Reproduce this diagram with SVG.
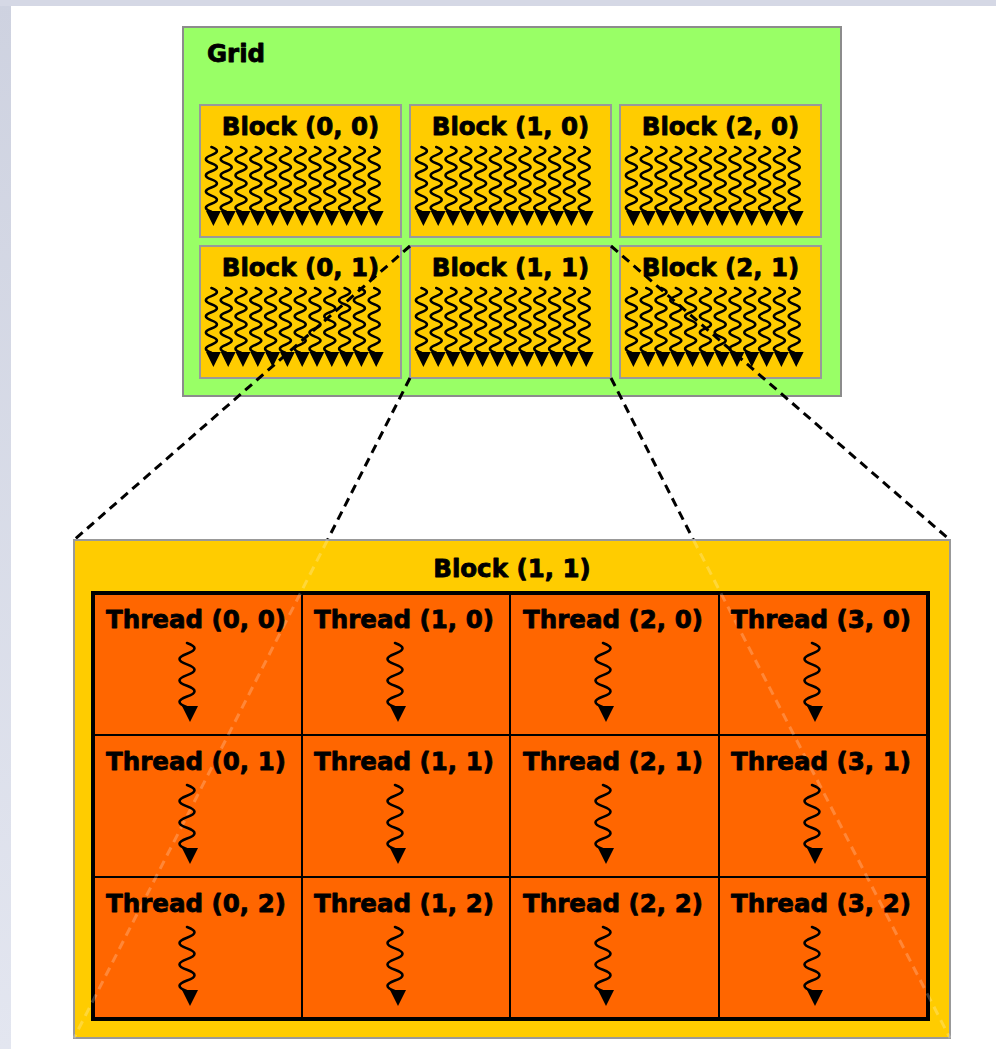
<svg xmlns="http://www.w3.org/2000/svg" xmlns:xlink="http://www.w3.org/1999/xlink" width="996" height="1049" viewBox="0 0 996 1049">
  <style>
    .lbl { font-family: "DejaVu Sans", Verdana, sans-serif; font-weight: bold; font-size: 24.5px; fill: #000; stroke: #000; stroke-width: 0.8px; stroke-linejoin: round; }
    .mid { text-anchor: middle; }
    .grid { fill: #99ff66; stroke: #8c8c8c; stroke-width: 2; }
    .blk { fill: #ffcc00; stroke: #999999; stroke-width: 2; }
    .wave { fill: none; stroke: #000; stroke-width: 2.6; stroke-linecap: round; stroke-linejoin: round; }
    .tip { fill: #000; }
    .cell { fill: #ff6600; stroke: #000; stroke-width: 4; }
    .sep { stroke: #000; stroke-width: 2; }
    .dash { stroke: #000; stroke-width: 3; stroke-dasharray: 9 6; fill: none; }
    .ghost { stroke: #ffffff; stroke-opacity: 0.22; stroke-width: 3; stroke-dasharray: 9 6; fill: none; }
  </style>
  <defs>
    <linearGradient id="side" x1="0" y1="0" x2="0" y2="1">
      <stop offset="0" stop-color="#ced2e0"/>
      <stop offset="1" stop-color="#e3e6f0"/>
    </linearGradient>
    <!-- one wavy thread line, 8 half-waves -->
    <path id="w12" class="wave" d="M-2,42 q11,4 0,8.1 t0,8.1 t0,8.1 t0,8.1 t0,8.1 t0,8.1 t0,8.1 t0,8.1"/>
    <!-- twelve threads with their arrowheads, placed relative to a block's corner -->
    <g id="threads">
      <use xlink:href="#w12" x="13.4"/>
      <use xlink:href="#w12" x="28.2"/>
      <use xlink:href="#w12" x="43"/>
      <use xlink:href="#w12" x="57.8"/>
      <use xlink:href="#w12" x="72.6"/>
      <use xlink:href="#w12" x="87.4"/>
      <use xlink:href="#w12" x="102.2"/>
      <use xlink:href="#w12" x="117"/>
      <use xlink:href="#w12" x="131.8"/>
      <use xlink:href="#w12" x="146.6"/>
      <use xlink:href="#w12" x="161.4"/>
      <use xlink:href="#w12" x="176.2"/>
      <path class="tip" d="M6,106 h177.6 l-7.4,15 l-7.4,-15 l-7.4,15 l-7.4,-15 l-7.4,15 l-7.4,-15 l-7.4,15 l-7.4,-15 l-7.4,15 l-7.4,-15 l-7.4,15 l-7.4,-15 l-7.4,15 l-7.4,-15 l-7.4,15 l-7.4,-15 l-7.4,15 l-7.4,-15 l-7.4,15 l-7.4,-15 l-7.4,15 l-7.4,-15 l-7.4,15 z"/>
    </g>
    <!-- single thread arrow used inside the expanded block -->
    <g id="thread">
      <path class="wave" d="M-3,0 q15,5.35 0,10.7 t0,10.7 t0,10.7 t0,10.7 t0,10.7 t0,10.7"/>
      <path class="tip" d="M-8,63 L8,63 L0,79 Z"/>
    </g>
  </defs>

  <!-- page -->
  <rect x="0" y="0" width="996" height="1049" fill="#ffffff"/>
  <rect x="0" y="0" width="11" height="1049" fill="url(#side)"/>
  <rect x="0" y="0" width="996" height="6" fill="#d5d8e5"/>

  <!-- grid of blocks -->
  <g id="grid">
    <rect class="grid" x="183" y="27" width="658" height="369"/>
    <text class="lbl" x="207" y="62">Grid</text>
  </g>
  <g id="block-0-0">
    <rect class="blk" x="200" y="105" width="201" height="132"/>
    <text class="lbl mid" x="300.5" y="135">Block (0, 0)</text>
    <use xlink:href="#threads" x="200" y="105"/>
  </g>
  <g id="block-1-0">
    <rect class="blk" x="410" y="105" width="201" height="132"/>
    <text class="lbl mid" x="510.5" y="135">Block (1, 0)</text>
    <use xlink:href="#threads" x="410" y="105"/>
  </g>
  <g id="block-2-0">
    <rect class="blk" x="620" y="105" width="201" height="132"/>
    <text class="lbl mid" x="720.5" y="135">Block (2, 0)</text>
    <use xlink:href="#threads" x="620" y="105"/>
  </g>
  <g id="block-0-1">
    <rect class="blk" x="200" y="246" width="201" height="132"/>
    <text class="lbl mid" x="300.5" y="276">Block (0, 1)</text>
    <use xlink:href="#threads" x="200" y="246"/>
  </g>
  <g id="block-1-1">
    <rect class="blk" x="410" y="246" width="201" height="132"/>
    <text class="lbl mid" x="510.5" y="276">Block (1, 1)</text>
    <use xlink:href="#threads" x="410" y="246"/>
  </g>
  <g id="block-2-1">
    <rect class="blk" x="620" y="246" width="201" height="132"/>
    <text class="lbl mid" x="720.5" y="276">Block (2, 1)</text>
    <use xlink:href="#threads" x="620" y="246"/>
  </g>

  <!-- projection lines from block (1, 1) to its expanded view -->
  <g id="connectors">
    <line class="dash" x1="410" y1="246" x2="74" y2="540"/>
    <line class="dash" x1="611" y1="246" x2="950" y2="540"/>
    <line class="dash" x1="410" y1="378" x2="327.5" y2="540"/>
    <line class="dash" x1="611" y1="378" x2="693.5" y2="540"/>
  </g>

  <!-- expanded block (1, 1) -->
  <g id="block-detail">
    <rect class="blk" x="74" y="540" width="876" height="498"/>
    <text class="lbl mid" x="512" y="577">Block (1, 1)</text>
    <rect class="cell" x="93" y="593" width="835" height="426"/>
    <line class="sep" x1="302" y1="593" x2="302" y2="1019"/>
    <line class="sep" x1="510" y1="593" x2="510" y2="1019"/>
    <line class="sep" x1="719" y1="593" x2="719" y2="1019"/>
    <line class="sep" x1="93" y1="735" x2="928" y2="735"/>
    <line class="sep" x1="93" y1="877" x2="928" y2="877"/>
    <!-- continuation of the projection lines seen through the block -->
    <line class="ghost" x1="327.5" y1="540" x2="74" y2="1038"/>
    <line class="ghost" x1="693.5" y1="540" x2="950" y2="1038"/>
  </g>

  <g id="thread-0-0"><text class="lbl mid" x="196" y="628">Thread (0, 0)</text><use xlink:href="#thread" x="190" y="643"/></g>
  <g id="thread-1-0"><text class="lbl mid" x="404" y="628">Thread (1, 0)</text><use xlink:href="#thread" x="398" y="643"/></g>
  <g id="thread-2-0"><text class="lbl mid" x="613" y="628">Thread (2, 0)</text><use xlink:href="#thread" x="606" y="643"/></g>
  <g id="thread-3-0"><text class="lbl mid" x="821" y="628">Thread (3, 0)</text><use xlink:href="#thread" x="815" y="643"/></g>

  <g id="thread-0-1"><text class="lbl mid" x="196" y="770">Thread (0, 1)</text><use xlink:href="#thread" x="190" y="785"/></g>
  <g id="thread-1-1"><text class="lbl mid" x="404" y="770">Thread (1, 1)</text><use xlink:href="#thread" x="398" y="785"/></g>
  <g id="thread-2-1"><text class="lbl mid" x="613" y="770">Thread (2, 1)</text><use xlink:href="#thread" x="606" y="785"/></g>
  <g id="thread-3-1"><text class="lbl mid" x="821" y="770">Thread (3, 1)</text><use xlink:href="#thread" x="815" y="785"/></g>

  <g id="thread-0-2"><text class="lbl mid" x="196" y="912">Thread (0, 2)</text><use xlink:href="#thread" x="190" y="927"/></g>
  <g id="thread-1-2"><text class="lbl mid" x="404" y="912">Thread (1, 2)</text><use xlink:href="#thread" x="398" y="927"/></g>
  <g id="thread-2-2"><text class="lbl mid" x="613" y="912">Thread (2, 2)</text><use xlink:href="#thread" x="606" y="927"/></g>
  <g id="thread-3-2"><text class="lbl mid" x="821" y="912">Thread (3, 2)</text><use xlink:href="#thread" x="815" y="927"/></g>
</svg>
